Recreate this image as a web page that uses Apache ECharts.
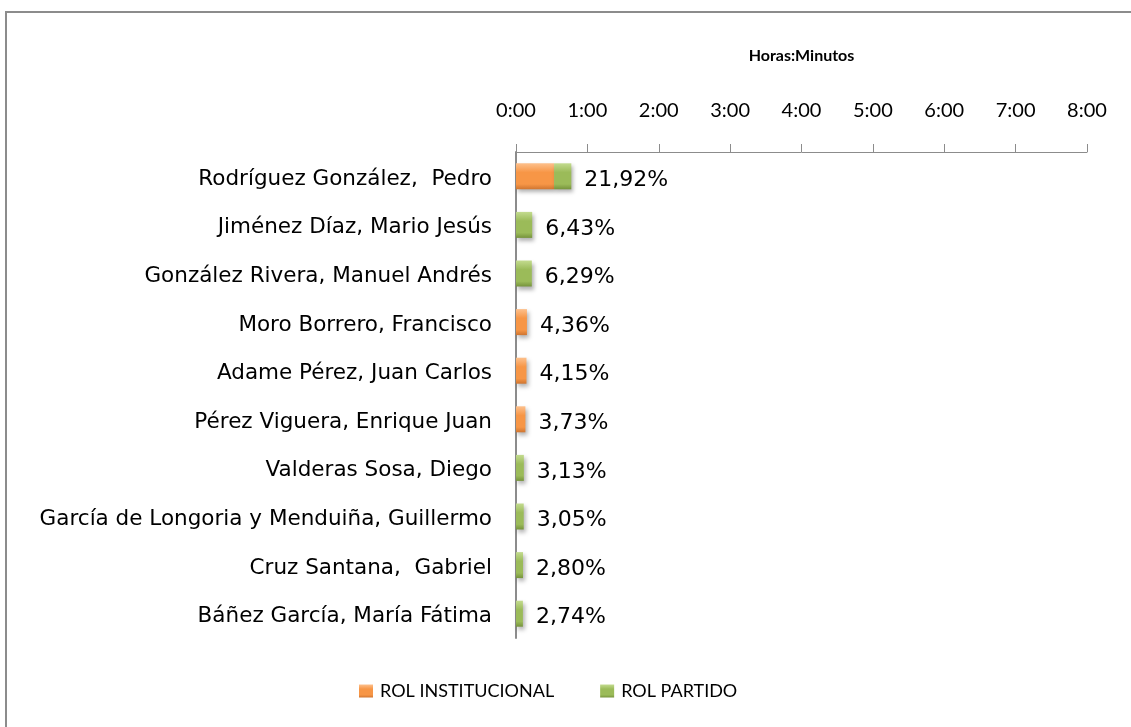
<!DOCTYPE html>
<html>
<head>
<meta charset="utf-8">
<script src="https://cdn.jsdelivr.net/npm/echarts@6/dist/echarts.min.js"></script>
<style>
  html, body { margin: 0; padding: 0; background: #fff; }
  #chart { width: 1131px; height: 727px; }
</style>
</head>
<body>
<div id="chart"></div>
<script>
// Members, ordered by share of total speaking time
const categories = [
  'Rodríguez González,  Pedro',
  'Jiménez Díaz, Mario Jesús',
  'González Rivera, Manuel Andrés',
  'Moro Borrero, Francisco',
  'Adame Pérez, Juan Carlos',
  'Pérez Viguera, Enrique Juan',
  'Valderas Sosa, Diego',
  'García de Longoria y Menduiña, Guillermo',
  'Cruz Santana,  Gabriel',
  'Báñez García, María Fátima'
];

// Minutes spoken in each role
const institucional = [32, 0, 0, 9.2, 8.8, 7.9, 0, 0, 0, 0];
const partido       = [14.5, 13.6, 13.3, 0, 0, 0, 6.6, 6.5, 5.9, 5.8];

// Share of total time, shown at the end of each bar
const shareLabels = ['21,92%', '6,43%', '6,29%', '4,36%', '4,15%', '3,73%', '3,13%', '3,05%', '2,80%', '2,74%'];

// Hour ticks on the time axis (minutes)
const axisMax = 480;
const axisStep = 60;

const FONT = 'Lato, "Open Sans", sans-serif';
const WIDE = '"DejaVu Sans", Verdana, sans-serif';

function bevel(light, mid, dark) {
  return new echarts.graphic.LinearGradient(0, 0, 0, 1, [
    { offset: 0, color: light },
    { offset: 0.35, color: mid },
    { offset: 0.8, color: mid },
    { offset: 1, color: dark }
  ]);
}

const orangeFill = bevel('#fdc08c', '#f79646', '#cf7530');
const greenFill = bevel('#c3db8f', '#9bbb59', '#76933c');

const chart = echarts.init(document.getElementById('chart'), null, { renderer: 'canvas' });

chart.setOption({
  animation: false,
  backgroundColor: '#fff',
  textStyle: { fontFamily: FONT },
  graphic: [{
    type: 'rect',
    shape: { x: 6, y: 12, width: 1200, height: 800 },
    style: { fill: 'none', stroke: '#8c8c8c', lineWidth: 2 },
    silent: true
  }],
  grid: { left: 516, right: 44, top: 152, bottom: 89, containLabel: false },
  legend: {
    bottom: 22,
    left: 354,
    itemGap: 46,
    itemWidth: 14,
    itemHeight: 13,
    icon: 'rect',
    textStyle: { fontFamily: FONT, fontSize: 18, color: '#000', padding: [0, 0, 0, 2] },
    data: ['ROL INSTITUCIONAL', 'ROL PARTIDO']
  },
  xAxis: {
    type: 'value',
    position: 'top',
    min: 0,
    max: axisMax,
    interval: axisStep,
    name: 'Horas:Minutos',
    nameLocation: 'middle',
    nameGap: 88,
    nameTextStyle: { fontFamily: FONT, fontSize: 16, fontWeight: 'bold', color: '#000' },
    axisLine: { show: true, lineStyle: { color: '#8c8c8c', width: 1 } },
    axisTick: { show: true, inside: false, length: 8, lineStyle: { color: '#8c8c8c' } },
    splitLine: { show: false },
    axisLabel: {
      margin: 31,
      fontSize: 20,
      color: '#000',
      fontFamily: FONT,
      formatter: v => Math.floor(v / 60) + ':' + String(Math.round(v % 60)).padStart(2, '0')
    }
  },
  yAxis: {
    type: 'category',
    inverse: true,
    data: categories,
    axisLine: { show: true, lineStyle: { color: '#8c8c8c', width: 2 } },
    axisTick: { show: false },
    axisLabel: {
      margin: 24,
      formatter: v => '{n|' + v + '}',
      rich: {
        n: { fontSize: 21.5, color: '#000', fontFamily: WIDE, padding: [6, 0, 0, 0] }
      }
    }
  },
  series: [
    {
      name: 'ROL INSTITUCIONAL',
      type: 'bar',
      stack: 'rol',
      barWidth: 26,
      data: institucional,
      itemStyle: {
        color: orangeFill,
        shadowBlur: 4, shadowOffsetX: 2, shadowOffsetY: 3, shadowColor: 'rgba(0,0,0,0.3)'
      }
    },
    {
      name: 'ROL PARTIDO',
      type: 'bar',
      stack: 'rol',
      barWidth: 26,
      data: partido,
      itemStyle: {
        color: greenFill,
        shadowBlur: 4, shadowOffsetX: 2, shadowOffsetY: 3, shadowColor: 'rgba(0,0,0,0.3)'
      },
      label: {
        show: true,
        position: 'right',
        distance: 13,
        offset: [0, 4],
        fontSize: 22,
        color: '#000',
        fontFamily: WIDE,
        formatter: p => shareLabels[p.dataIndex]
      }
    }
  ]
});
</script>
</body>
</html>
